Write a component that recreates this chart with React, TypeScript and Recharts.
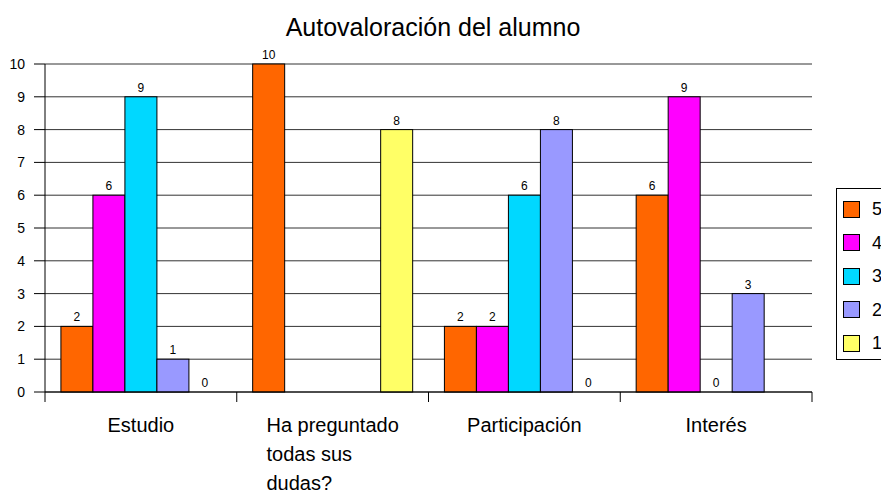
import React from "react";
import { BarChart, Bar, XAxis, YAxis, CartesianGrid } from "recharts";

const categories = ["Estudio", "Ha preguntado todas sus dudas?", "Participación", "Interés"];
const categoryLines = [["Estudio"], ["Ha preguntado", "todas sus", "dudas?"], ["Participación"], ["Interés"]];
const seriesNames = ["5", "4", "3", "2", "1"];
const seriesColors = ["#FF6600", "#FF00FF", "#00D8FF", "#9999FF", "#FFFF66"];
const s5 = [2, 10, 2, 6];
const s4 = [6, null, 2, 9];
const s3 = [9, null, 6, 0];
const s2 = [1, null, 8, 3];
const s1 = [0, 8, 0, null];
const yTicks = [0, 1, 2, 3, 4, 5, 6, 7, 8, 9, 10];

const seriesValues = [s5, s4, s3, s2, s1];
const data = categories.map((c, i) => {
  const row: any = { name: c, idx: i };
  seriesNames.forEach((s, k) => {
    row["v" + s] = seriesValues[k][i];
  });
  return row;
});

const FONT = "'Liberation Sans', Arial, Helvetica, sans-serif";

function measure(text: string, size: number) {
  try {
    const ctx = document.createElement("canvas").getContext("2d")!;
    ctx.font = `${size}px 'Liberation Sans'`;
    return ctx.measureText(text).width;
  } catch {
    return text.length * size * 0.5;
  }
}

const CatTick = (props: any) => {
  const { x, payload, index } = props;
  const half = payload && payload.offset ? payload.offset : 95.875;
  const lines = categoryLines[index] || [String(payload.value)];
  const w = measure(lines[0], 20);
  const startX = x - w / 2;
  return (
    <g>
      <line x1={x - half} y1={392} x2={x - half} y2={402} stroke="#000" />
      {index === categories.length - 1 && (
        <line x1={x + half} y1={392} x2={x + half} y2={402} stroke="#000" />
      )}
      {lines.map((l: string, i: number) => (
        <text key={i} x={startX} y={432 + i * 29} textAnchor="start" fontSize={20} fontFamily={FONT} fill="#000">
          {l}
        </text>
      ))}
    </g>
  );
};

const makeShape = (key: string) => (props: any) => {
  const { x, y, width, height, fill, payload } = props;
  const value = payload ? payload[key] : null;
  if (value === null || value === undefined) return <g />;
  const base = y + height;
  const top = value > 0 ? y : base;
  return (
    <g>
      {value > 0 && <rect x={x} y={y} width={width} height={height} fill={fill} stroke="#000" strokeWidth={1} />}
      <text x={x + width / 2} y={top - 5} textAnchor="middle" fontSize={12} fontFamily={FONT} fill="#000">
        {value}
      </text>
    </g>
  );
};

export default function App() {
  return (
    <div style={{ position: "absolute", left: 0, top: 0, width: 881, height: 495, background: "#fff" }}>
      <BarChart
        width={881}
        height={495}
        data={data}
        margin={{ top: 64, right: 69, bottom: 0, left: 0 }}
        barCategoryGap="8.3%"
        barGap={0}
      >
        <text x={433} y={36} textAnchor="middle" fontSize={25} fontFamily={FONT} fill="#000">
          Autovaloración del alumno
        </text>
        <CartesianGrid vertical={false} stroke="#333" strokeWidth={1} />
        <XAxis
          dataKey="name"
          height={103}
          axisLine={{ stroke: "#000" }}
          tickLine={false}
          tick={<CatTick />}
          interval={0}
        />
        <YAxis
          width={45}
          domain={[0, 10]}
          ticks={yTicks}
          interval={0}
          axisLine={{ stroke: "#000" }}
          tickLine={{ stroke: "#000" }}
          tickSize={11}
          tickMargin={9}
          tick={{ fontSize: 14, fontFamily: FONT, fill: "#000" }}
        />
        {seriesNames.map((s, k) => (
          <Bar
            key={s}
            dataKey={"v" + s}
            fill={seriesColors[k]}
            isAnimationActive={false}
            shape={makeShape("v" + s)}
          />
        ))}
      </BarChart>
      <div
        style={{
          position: "absolute",
          left: 836,
          top: 188,
          width: 60,
          height: 172,
          border: "1px solid #000",
          boxSizing: "border-box",
          background: "#fff",
          fontFamily: FONT,
          fontSize: 18,
        }}
      >
        {seriesNames.map((s, k) => (
          <div
            key={s}
            style={{ position: "absolute", left: 6, top: 11 + k * 33.5, height: 18, display: "flex", alignItems: "center" }}
          >
            <div style={{ width: 15, height: 15, background: seriesColors[k], border: "1px solid #000" }} />
            <span style={{ marginLeft: 12, lineHeight: "18px" }}>{s}</span>
          </div>
        ))}
      </div>
    </div>
  );
}
